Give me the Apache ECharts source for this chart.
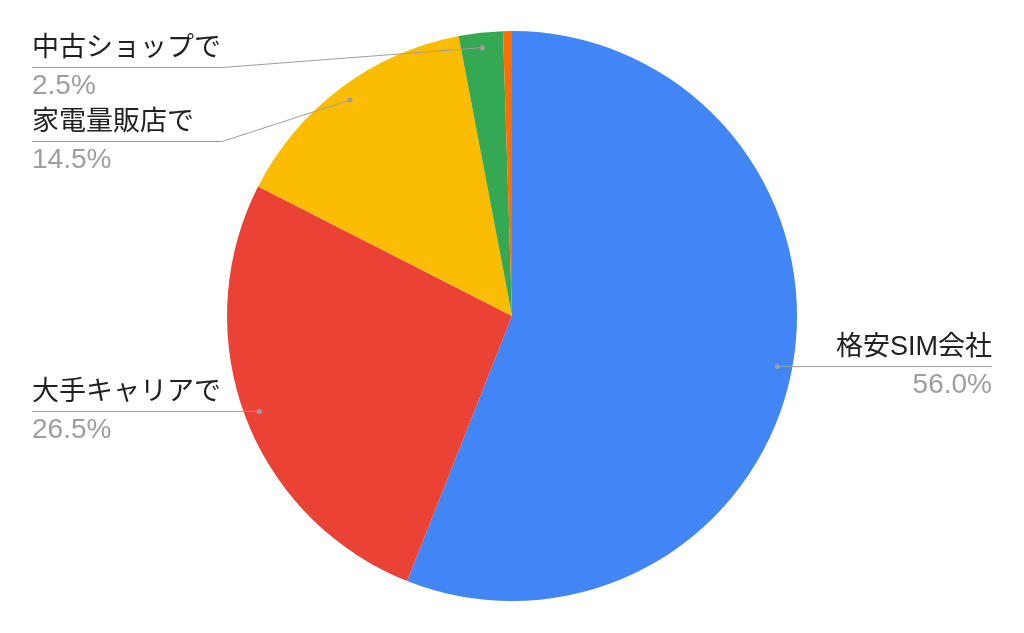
<!DOCTYPE html>
<html><head><meta charset="utf-8">
<script src="https://cdn.jsdelivr.net/npm/echarts@6/dist/echarts.min.js"></script>
<style>html,body{margin:0;padding:0;background:#fff}#c{width:1024px;height:633px}</style>
</head><body><div id="c"></div>
<script>
const categories = ['格安SIM会社', '大手キャリアで', '家電量販店で', '中古ショップで', 'その他'];
const values = [56.0, 26.5, 14.5, 2.5, 0.5];
const colors = ['#4285F4', '#EA4335', '#FBBC04', '#34A853', '#FF6D01'];
const labelShown = [true, true, true, true, false];

const CX = 512, CY = 316, R = 285, DOT_R = 270;
const LEFT_X = 32, RIGHT_X = 992, BEND_LEFT = 222, TOP_MIN = 67.5, GAP = 74;

const total = values.reduce((a, b) => a + b, 0);
const anchors = [];
let acc = 0;
values.forEach((v) => {
  const mid = (acc + v / 2) / total * 2 * Math.PI;
  acc += v;
  anchors.push({ x: CX + DOT_R * Math.sin(mid), y: CY - DOT_R * Math.cos(mid), side: Math.sin(mid) >= 0 ? 'right' : 'left' });
});
const lineY = anchors.map(a => a.y);
['left', 'right'].forEach(side => {
  const idx = anchors.map((a, i) => i).filter(i => labelShown[i] && anchors[i].side === side).sort((a, b) => anchors[a].y - anchors[b].y);
  let prev = -Infinity;
  idx.forEach(i => { const y = Math.max(anchors[i].y, TOP_MIN, prev + GAP); lineY[i] = y; prev = y; });
});
function linePoints(i) {
  const a = anchors[i], ly = lineY[i];
  if (a.side === 'left') return [[a.x, a.y], [Math.min(BEND_LEFT, a.x), ly], [LEFT_X, ly]];
  return [[a.x, a.y], [a.x, ly], [RIGHT_X, ly]];
}

const graphics = [];
anchors.forEach((a, i) => {
  if (!labelShown[i]) return;
  graphics.push({ type: 'polyline', z: 100, shape: { points: linePoints(i) }, style: { stroke: '#9e9e9e', lineWidth: 1, fill: null } });
  graphics.push({ type: 'circle', z: 101, shape: { cx: a.x, cy: a.y, r: 2.5 }, style: { fill: '#9e9e9e' } });
});

const chart = echarts.init(document.getElementById('c'), null, { renderer: 'canvas' });
chart.setOption({
  animation: false,
  backgroundColor: '#fff',
  series: [{
    type: 'pie',
    center: [CX, CY],
    radius: [0, R],
    startAngle: 90,
    clockwise: true,
    avoidLabelOverlap: false,
    itemStyle: { borderWidth: 0 },
    emphasis: { disabled: true },
    data: categories.map((c, i) => ({
      name: c, value: values[i],
      itemStyle: { color: colors[i] },
      label: { show: labelShown[i] }
    })),
    label: {
      position: 'outside',
      formatter: p => '{n|' + p.name + '}\n{p|' + p.percent.toFixed(1) + '%}',
      rich: {
        n: { fontSize: 27, color: '#212121', lineHeight: 37, fontFamily: 'Arial, "Liberation Sans", "Noto Sans CJK JP", sans-serif' },
        p: { fontSize: 28, color: '#9e9e9e', lineHeight: 38, fontFamily: 'Arial, "Liberation Sans", sans-serif' }
      }
    },
    labelLine: { show: false },
    labelLayout: function (params) {
      const i = params.dataIndex;
      const a = anchors[i];
      return {
        x: a.side === 'left' ? LEFT_X : RIGHT_X,
        y: lineY[i],
        align: a.side,
        verticalAlign: 'middle'
      };
    }
  }],
  graphic: graphics
});
</script>
</body></html>
